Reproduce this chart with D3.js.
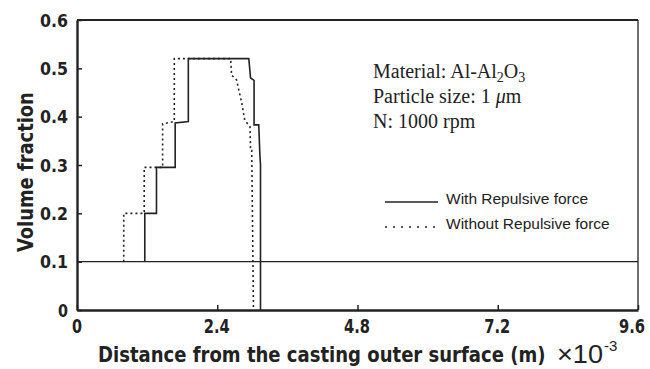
<!DOCTYPE html>
<html lang="en">
<head>
    <meta charset="UTF-8">
    <title>Volume fraction vs distance</title>
    <script src="https://cdn.jsdelivr.net/npm/d3@7"></script>
    <style>
        body { margin: 0; background: #fff; }
        .bold-cond { font-family: "DejaVu Sans", Arial, sans-serif; font-stretch: condensed; font-weight: bold; }
    </style>
</head>
<body>
<div id="chart"></div>
<script>
    // x in mm (×10^-3 m), y = volume fraction
    var withRepulsive = [
        [1.16, 0.1], [1.16, 0.2], [1.36, 0.2], [1.36, 0.295], [1.68, 0.295],
        [1.68, 0.387], [1.905, 0.39], [1.905, 0.52], [2.94, 0.52], [2.97, 0.48],
        [3.03, 0.475], [3.03, 0.383], [3.11, 0.383], [3.13, 0.32], [3.14, 0.3], [3.14, 0]
    ];
    var withoutRepulsive = [
        [0.80, 0.1], [0.80, 0.2], [1.15, 0.2], [1.15, 0.295], [1.465, 0.295],
        [1.465, 0.385], [1.665, 0.39], [1.665, 0.52], [2.63, 0.52], [2.645, 0.486],
        [2.73, 0.476], [2.82, 0.428], [2.87, 0.393], [2.96, 0.379], [2.97, 0.33],
        [2.99, 0.33], [3.02, 0]
    ];
    var baseLevel = 0.1;
    var xTicks = [0, 2.4, 4.8, 7.2, 9.6];
    var yTicks = [0, 0.1, 0.2, 0.3, 0.4, 0.5, 0.6];
    var notes = ["Material: Al-Al", "Particle size: 1 ", "N: 1000 rpm"];
    var legendLabels = ["With Repulsive force", "Without Repulsive force"];

    var width = 650, height = 369;
    var margin = {top: 20, right: 12, bottom: 59, left: 77};

    var svg = d3.select("#chart").append("svg")
        .attr("width", width)
        .attr("height", height);

    var x = d3.scaleLinear().domain([0, 9.6]).range([margin.left, width - margin.right]);
    var y = d3.scaleLinear().domain([0, 0.6]).range([height - margin.bottom, margin.top]);

    // frame
    svg.append("line").attr("x1", x(9.6)).attr("x2", x(9.6)).attr("y1", y(0.6)).attr("y2", y(0))
        .attr("stroke", "#222").attr("stroke-width", 1.3);
    svg.append("line").attr("x1", x(0)).attr("x2", x(9.6)).attr("y1", y(0.6)).attr("y2", y(0.6))
        .attr("stroke", "#222").attr("stroke-width", 2.2);

    // axes with inward ticks
    var xAxis = svg.append("g")
        .attr("transform", `translate(0,${y(0)})`)
        .call(d3.axisTop(x).tickValues(xTicks).tickSize(5).tickSizeOuter(0).tickFormat(""));
    xAxis.select(".domain").attr("stroke", "#222").attr("stroke-width", 2.4);
    xAxis.selectAll(".tick line").attr("stroke", "#222").attr("stroke-width", 1.5);

    var yAxis = svg.append("g")
        .attr("transform", `translate(${x(0)},0)`)
        .call(d3.axisRight(y).tickValues(yTicks).tickSize(5).tickSizeOuter(0).tickFormat(""));
    yAxis.select(".domain").attr("stroke", "#222").attr("stroke-width", 2.4);
    yAxis.selectAll(".tick line").attr("stroke", "#222").attr("stroke-width", 1.5);

    var fmt = d => d === 0 ? "0" : d.toFixed(1);

    // tick labels (narrow bold face squeezed with textLength); last one kept inside the page
    svg.selectAll("text.xl").data(xTicks).join("text")
        .attr("class", "bold-cond xl")
        .attr("x", d => Math.min(x(d) - (d === 0 ? 5 : 13.5), width - 31)).attr("y", 333)
        .attr("font-size", 19).attr("fill", "#222")
        .attr("textLength", d => d === 0 ? 10 : 26)
        .attr("lengthAdjust", "spacingAndGlyphs")
        .text(fmt);

    svg.selectAll("text.yl").data(yTicks).join("text")
        .attr("class", "bold-cond yl")
        .attr("x", d => d === 0 ? 58 : 40).attr("y", d => y(d) + 6.5)
        .attr("font-size", 18).attr("fill", "#222")
        .attr("textLength", d => d === 0 ? 10 : 28)
        .attr("lengthAdjust", "spacingAndGlyphs")
        .text(fmt);

    // squeeze a text horizontally to a given width
    function squeeze(sel, x0, y0, w, rot) {
        var nat = sel.node().getComputedTextLength();
        sel.attr("transform", `translate(${x0},${y0})${rot ? " rotate(-90)" : ""} scale(${w / nat},1)`);
    }

    // axis titles
    var yt = svg.append("text")
        .attr("class", "bold-cond")
        .attr("font-size", 21).attr("fill", "#222")
        .text("Volume fraction");
    squeeze(yt, 33, 252, 160, true);

    var xb = svg.append("text")
        .attr("class", "bold-cond")
        .attr("font-size", 21).attr("fill", "#222")
        .text("Distance from the casting outer surface (m)");
    squeeze(xb, 98, 362, 448, false);

    var xt = svg.append("text")
        .attr("x", 557).attr("y", 363)
        .attr("font-family", "'Liberation Sans', Arial, sans-serif")
        .attr("font-size", 25).attr("fill", "#222");
    xt.append("tspan").attr("textLength", 46).attr("lengthAdjust", "spacingAndGlyphs").text("\u00d710");
    xt.append("tspan").attr("dy", -12).attr("dx", 1).attr("font-size", 15).text("-3");

    // base level line
    svg.append("line")
        .attr("x1", x(0)).attr("x2", x(9.6))
        .attr("y1", y(baseLevel)).attr("y2", y(baseLevel))
        .attr("stroke", "#222").attr("stroke-width", 1.2);

    var line = d3.line().x(d => x(d[0])).y(d => y(d[1]));

    svg.append("path").datum(withoutRepulsive)
        .attr("d", line)
        .attr("fill", "none").attr("stroke", "#222")
        .attr("stroke-width", 1.6).attr("stroke-dasharray", "2,3");

    svg.append("path").datum(withRepulsive)
        .attr("d", line)
        .attr("fill", "none").attr("stroke", "#222")
        .attr("stroke-width", 1.6);

    // annotation
    var serif = "'Liberation Serif', 'Times New Roman', serif";
    var t1 = svg.append("text").attr("x", 373).attr("y", 78)
        .attr("font-family", serif).attr("font-size", 20).attr("fill", "#222");
    t1.append("tspan").text(notes[0]);
    t1.append("tspan").attr("font-size", 14).attr("dy", 4).text("2");
    t1.append("tspan").attr("dy", -4).text("O");
    t1.append("tspan").attr("font-size", 14).attr("dy", 4).text("3");

    var t2 = svg.append("text").attr("x", 373).attr("y", 103)
        .attr("font-family", serif).attr("font-size", 20).attr("fill", "#222");
    t2.append("tspan").text(notes[1]);
    t2.append("tspan").attr("font-style", "italic").text("\u03bc");
    t2.append("tspan").text("m");

    svg.append("text").attr("x", 373).attr("y", 128)
        .attr("font-family", serif).attr("font-size", 20).attr("fill", "#222")
        .text(notes[2]);

    // legend
    var legend = svg.append("g").attr("transform", "translate(385,202)");
    legendLabels.forEach(function (label, i) {
        legend.append("line")
            .attr("x1", 0).attr("x2", 53).attr("y1", i * 25).attr("y2", i * 25)
            .attr("stroke", "#222").attr("stroke-width", 1.3)
            .attr("stroke-dasharray", i === 1 ? "2,6" : null);
        legend.append("text")
            .attr("x", 61).attr("y", i * 25 + 1.5)
            .attr("font-family", "'Liberation Sans', Arial, sans-serif")
            .attr("font-size", 15.5).attr("fill", "#222")
            .text(label);
    });
</script>
</body>
</html>
